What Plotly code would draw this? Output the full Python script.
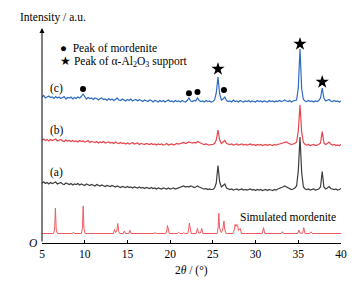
import numpy as np
import plotly.graph_objects as go

# 2theta scan grid (degrees), step 0.2
two_theta = np.round(np.arange(5.0, 40.0001, 0.2), 1)

# (c) blue trace intensities (a.u.)
int_c = [146, 147.5, 145, 146.5, 147, 145.5, 146, 144.5, 146.5, 145,
         146, 144.5, 145.5, 146.5, 144, 145.5, 145, 146, 144, 145.5,
         144.5, 146, 145, 146.5, 149, 146, 144, 145.5, 144.5, 145,
         143.5, 145, 144.5, 143, 144.5, 145, 143.5, 144, 142.5, 144.5,
         143, 144, 142.5, 143.5, 145, 143, 142.5, 144, 143, 142,
         143.5, 142.5, 144, 142, 143, 143.5, 142, 143.5, 142.5, 141.5,
         143, 142, 141.5, 143, 142.5, 141, 142.5, 142, 141, 142.5,
         141.5, 142.5, 141, 142, 143, 141.5, 142, 141, 142.5, 141.5,
         142, 141, 142.5, 141.5, 141, 142.5, 145, 142, 141.5, 142.5,
         142, 145, 142.5, 141.5, 142, 141, 142.5, 141.5, 142, 141,
         141.5, 143, 150, 166, 149, 143, 144, 146, 142.5, 141.5,
         142, 141, 143, 141.5, 142, 141, 142.5, 141.5, 141, 142,
         141.5, 142.5, 141, 142, 141.5, 141, 142.5, 141.5, 142, 141,
         142, 141.5, 141, 142.5, 141.5, 142, 141, 142, 141.5, 142.5,
         141.5, 142, 143, 142, 141.5, 142.5, 141, 142, 142.5, 143,
         155, 194, 154, 143.5, 142, 141.5, 142.5, 141.5, 142, 141,
         142, 141.5, 142.5, 145, 155, 145, 142, 143, 143.5, 142,
         141.5, 142.5, 141.5, 142, 141, 142]

# (b) red trace intensities
int_b = [103, 104, 102.5, 103.5, 102, 103.5, 102.5, 103, 104, 102,
         102.5, 103.5, 102, 101.5, 103, 102, 102.5, 101.5, 102.5, 101.5,
         102, 101, 102.5, 101.5, 102, 101, 101.5, 102.5, 100.5, 101.5,
         101, 100.5, 101.5, 100, 101, 100.5, 101.5, 100, 100.5, 101,
         100, 100.5, 99.5, 101, 100, 99.5, 100.5, 99.5, 100, 99,
         100, 99, 99.5, 100.5, 99, 99.5, 100, 98.5, 99.5, 99,
         98.5, 99.5, 99, 98.5, 99.5, 98.5, 99, 98, 99, 98.5,
         99, 98, 98.5, 99.5, 98, 98.5, 99, 98, 98.5, 99.5,
         99, 99.5, 100, 100.5, 99.5, 100, 101, 100.5, 100, 100.5,
         100, 101.5, 100.5, 99.5, 99, 98.5, 99, 98.5, 98, 98.5,
         98.5, 99.5, 103, 113, 103, 99.5, 101, 102.5, 99.5, 99,
         98.5, 99, 98, 98.5, 99, 98, 98.5, 99, 98, 98.5,
         98, 98.5, 99, 98, 98.5, 97.5, 98.5, 98, 98.5, 97.5,
         98, 98.5, 97.5, 98.5, 98, 97.5, 98.5, 98, 98.5, 99,
         99, 99.5, 100.5, 101, 100, 99, 98.5, 99, 99.5, 101,
         112, 138, 111, 100.5, 98.5, 98, 98.5, 97.5, 98, 98.5,
         97.5, 98, 98.5, 100, 111.5, 100, 98.5, 99.5, 101, 99,
         98, 98.5, 97.5, 98, 97.5, 98.5]

# (a) dark trace intensities
int_a = [60, 61, 59.5, 60.5, 59, 60.5, 59.5, 60, 61, 59,
         59.5, 60.5, 59, 58.5, 60, 59, 58.5, 59.5, 58, 59,
         58.5, 59.5, 58, 59, 58.5, 57.5, 59, 58, 57.5, 58.5,
         58, 57, 58.5, 57.5, 57, 58, 57.5, 56.5, 57.5, 57,
         56.5, 57.5, 56.5, 56, 57, 56.5, 55.5, 56.5, 56, 55.5,
         56.5, 55.5, 56, 55, 56, 55.5, 55, 56, 55, 55.5,
         54.5, 55.5, 55, 54.5, 55.5, 54.5, 55, 54, 55, 54.5,
         54, 55, 54.5, 54, 55, 54, 54.5, 55, 54, 54.5,
         55, 55.5, 56, 57, 56, 56.5, 56, 57, 56.5, 55.5,
         56, 57, 56, 55, 54.5, 54, 54.5, 53.5, 54, 53.5,
         53.5, 55, 60, 77.5, 61, 56, 57.5, 59, 55, 54,
         53.5, 54, 53, 53.5, 54, 53, 53.5, 54, 53, 53.5,
         53, 53.5, 54, 53, 53.5, 52.5, 53.5, 53, 53.5, 52.5,
         53, 53.5, 52.5, 53.5, 53, 52.5, 53.5, 53, 54, 54.5,
         55, 56, 57, 56, 55, 54, 53.5, 54, 55, 57,
         72, 106, 70, 56, 54, 53.5, 54, 53, 53.5, 54,
         53, 53.5, 54, 56, 71.5, 56, 54, 55, 56.5, 54.5,
         54, 53.5, 54, 53, 53.5, 54.5]

# Simulated mordenite pattern (2theta, intensity)
sim_pts = [(5.0, 9.5), (6.35, 9.5), (6.48, 14), (6.57, 35), (6.66, 14), (6.8, 9.5),
           (8.55, 9.5), (8.67, 10.8), (8.8, 9.5),
           (9.6, 9.5), (9.73, 14.5), (9.82, 37), (9.91, 14.5), (10.05, 9.5),
           (13.35, 9.5), (13.49, 13.5), (13.6, 10.5), (13.75, 12), (13.87, 19.5), (13.98, 11.5), (14.1, 9.5),
           (14.5, 9.5), (14.64, 12), (14.78, 9.5),
           (15.15, 9.5), (15.29, 12.7), (15.43, 9.5),
           (18.1, 9.5), (18.24, 10.4), (18.38, 9.5),
           (19.5, 9.5), (19.61, 12), (19.69, 17.5), (19.78, 12), (19.9, 9.5),
           (20.9, 9.5), (21.03, 10.7), (21.16, 9.5),
           (21.5, 9.5), (21.6, 10.5), (21.7, 9.5),
           (22.05, 9.5), (22.16, 13), (22.25, 20), (22.34, 13), (22.46, 9.5),
           (23.05, 9.5), (23.2, 14.5), (23.33, 10), (23.55, 10), (23.7, 14.5), (23.84, 9.5),
           (25.5, 9.5), (25.61, 15), (25.7, 29.7), (25.79, 15), (25.95, 10.5), (26.13, 12),
           (26.3, 22), (26.4, 13), (26.55, 9.5),
           (27.35, 9.5), (27.5, 13), (27.6, 18.5), (27.7, 16.5), (27.8, 18.7), (27.9, 17.5),
           (28.0, 12.5), (28.2, 14.5), (28.35, 9.5),
           (30.78, 9.5), (30.93, 15.3), (31.07, 9.5),
           (33.0, 9.5), (33.15, 11.3), (33.3, 9.5),
           (34.93, 9.5), (35.07, 13), (35.2, 9.8), (35.5, 9.8), (35.64, 15.3), (35.78, 9.5),
           (36.35, 9.5), (36.5, 11.2), (36.65, 9.5),
           (40.0, 9.5)]

# Peak markers above trace (c)
mord_x = [9.8, 22.2, 23.2, 26.3]
mord_y = [154, 149.7, 151, 153]
alumina_x = [25.6, 35.2, 37.8]
alumina_y = [174, 199, 161]

tick_vals = [5, 10, 15, 20, 25, 30, 35, 40]

FONT = "Liberation Serif, Times New Roman, DejaVu Serif, serif"
C_BLUE = "#2d6cc2"
C_RED = "#e8444b"
C_SIM = "#ee5a60"
C_DARK = "#3d3d3d"

sim_x, sim_y = zip(*sim_pts)

fig = go.Figure()
fig.add_trace(go.Scatter(x=sim_x, y=sim_y, mode="lines", line=dict(color=C_SIM, width=1)))
fig.add_trace(go.Scatter(x=two_theta, y=int_a, mode="lines", line=dict(color=C_DARK, width=1.2)))
fig.add_trace(go.Scatter(x=two_theta, y=int_b, mode="lines", line=dict(color=C_RED, width=1.2)))
fig.add_trace(go.Scatter(x=two_theta, y=int_c, mode="lines", line=dict(color=C_BLUE, width=1.2)))
fig.add_trace(go.Scatter(x=mord_x, y=mord_y, mode="markers",
                         marker=dict(symbol="circle", size=6, color="black")))
fig.add_trace(go.Scatter(x=alumina_x, y=alumina_y, mode="markers",
                         marker=dict(symbol="star", size=10, color="black")))

ann = []
# y axis arrow
ann.append(dict(x=5, y=215, ax=5, ay=0, xref="x", yref="y", axref="x", ayref="y",
                text="", showarrow=True, arrowhead=2, arrowsize=1, arrowwidth=1,
                arrowcolor="black"))
fs = 11.5
ann.append(dict(x=-0.08, y=1.047, xref="paper", yref="paper", xanchor="left", yanchor="middle",
                text="Intensity / a.u.", showarrow=False, font=dict(family=FONT, size=fs, color="black")))
ann.append(dict(x=5, y=0, xref="x", yref="y", xanchor="right", yanchor="middle", xshift=-2,
                text="<i>O</i>", showarrow=False, font=dict(family=FONT, size=fs, color="black")))
ann.append(dict(x=0.5, y=-0.126, xref="paper", yref="paper", xanchor="center", yanchor="middle",
                text="2<i>θ</i> / (°)", showarrow=False, font=dict(family=FONT, size=fs, color="black")))
ann.append(dict(x=0.055, y=0.905, xref="paper", yref="paper", xanchor="left", yanchor="middle",
                text="●  Peak of mordenite", showarrow=False, font=dict(family=FONT, size=fs, color="black")))
ann.append(dict(x=0.055, y=0.84, xref="paper", yref="paper", xanchor="left", yanchor="middle",
                text="★ Peak of α-Al<sub>2</sub>O<sub>3</sub> support", showarrow=False,
                font=dict(family=FONT, size=fs, color="black")))
for lab, yy in [("(c)", 155), ("(b)", 112.3), ("(a)", 70.3)]:
    ann.append(dict(x=6.72, y=yy, xref="x", yref="y", xanchor="center", yanchor="middle",
                    text=lab, showarrow=False, font=dict(family=FONT, size=fs, color="black")))
ann.append(dict(x=39.7, y=26, xref="x", yref="y", xanchor="right", yanchor="middle",
                text="Simulated mordenite", showarrow=False, font=dict(family=FONT, size=fs, color="black")))

fig.update_layout(
    width=359, height=284,
    margin=dict(l=42, r=12, t=28, b=41),
    paper_bgcolor="white", plot_bgcolor="white",
    showlegend=False,
    font=dict(family=FONT, size=fs, color="black"),
    annotations=ann,
    xaxis=dict(range=[5, 40], tickvals=tick_vals, ticks="inside", ticklen=3.5, tickwidth=1,
               tickcolor="black", showline=True, linecolor="black", linewidth=1,
               showgrid=False, zeroline=False,
               tickfont=dict(family=FONT, size=fs, color="black")),
    yaxis=dict(range=[0, 215], visible=False, showgrid=False, zeroline=False),
)

fig.write_html("out.html", config={"displayModeBar": False},
               post_script="document.body.style.margin='0';")
